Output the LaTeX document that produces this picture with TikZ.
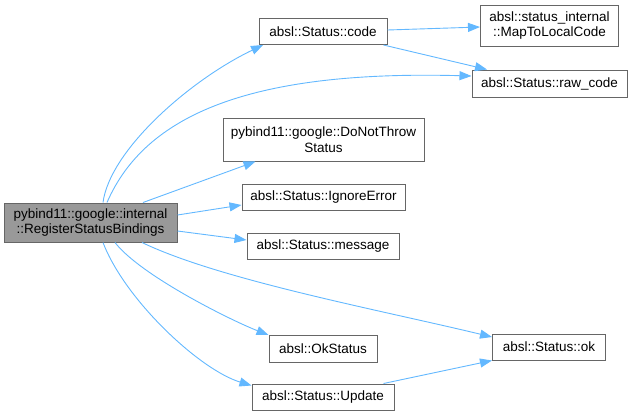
\documentclass[tikz,border=0pt]{standalone}
\usepackage{fontspec}
\setmainfont{Liberation Sans}
\usetikzlibrary{arrows.meta,calc}
\definecolor{edgeblue}{HTML}{63B8FF}
\definecolor{boxborder}{HTML}{666666}
\definecolor{mainfill}{HTML}{999999}
\tikzset{
  fn/.style={draw=boxborder, line width=1pt, fill=white, inner sep=0pt, align=center,
    font=\fontsize{13.5}{15.5}\selectfont, anchor=center},
  mainfn/.style={fn, fill=mainfill},
  call/.style={draw=edgeblue, line width=0.9pt, -{Triangle[length=12pt,width=9pt]}, color=edgeblue},
}
\begin{document}
\begin{tikzpicture}[x=1pt,y=-1pt]
\useasboundingbox (0,0) rectangle (633,416);
\node[mainfn, minimum width=173pt, minimum height=39pt] (main) at (90.5,222.5) {pybind11::google::internal\\::RegisterStatusBindings};
\node[fn, minimum width=128pt, minimum height=26pt] (code) at (323,31.5) {absl::Status::code};
\node[fn, minimum width=138pt, minimum height=41pt] (map) at (549.5,25.5) {absl::status\_internal\\::MapToLocalCode};
\node[fn, minimum width=155pt, minimum height=27pt] (raw) at (549.5,83.5) {absl::Status::raw\_code};
\node[fn, minimum width=201pt, minimum height=43pt] (dnt) at (323.5,139.5) {pybind11::google::DoNotThrow\\Status};
\node[fn, minimum width=163pt, minimum height=26pt] (ign) at (323.5,197.5) {absl::Status::IgnoreError};
\node[fn, minimum width=152pt, minimum height=26pt] (msg) at (323,246) {absl::Status::message};
\node[fn, minimum width=108pt, minimum height=27pt] (okst) at (323,349) {absl::OkStatus};
\node[fn, minimum width=113pt, minimum height=26pt] (ok) at (549,347) {absl::Status::ok};
\node[fn, minimum width=142pt, minimum height=26pt] (upd) at (323,397) {absl::Status::Update};

\draw[call] ([xshift=12.5pt]main.north) .. controls (110,150) and (190,80) .. ([xshift=-60pt]code.south);
\draw[call] ([xshift=16.5pt]main.north) .. controls (145,115) and (250,70) .. ([yshift=7.5pt]raw.west);
\draw[call] ([xshift=52.5pt]main.north) -- ([xshift=-68pt]dnt.south);
\draw[call] ([yshift=7.5pt]main.east) -- ([yshift=-7.5pt]ign.west);
\draw[call] ([yshift=-8.5pt]main.east) -- ([yshift=6pt]msg.west);
\draw[call] ([xshift=51.5pt]main.south) .. controls (220,280) and (380,310) .. ([yshift=10pt]ok.west);
\draw[call] ([xshift=24.5pt]main.south) .. controls (140,275) and (230,320) .. (okst.north west);
\draw[call] ([xshift=12.5pt]main.south) .. controls (125,300) and (200,370) .. ([yshift=-2pt]upd.north west);
\draw[call] ([yshift=1.5pt]code.east) -- ([yshift=-1.5pt]map.west);
\draw[call] ([xshift=-4pt]code.south east) -- ([xshift=-62.5pt]raw.north);
\draw[call] ([xshift=-11pt]upd.north east) -- (ok.south west);
\end{tikzpicture}
\end{document}
